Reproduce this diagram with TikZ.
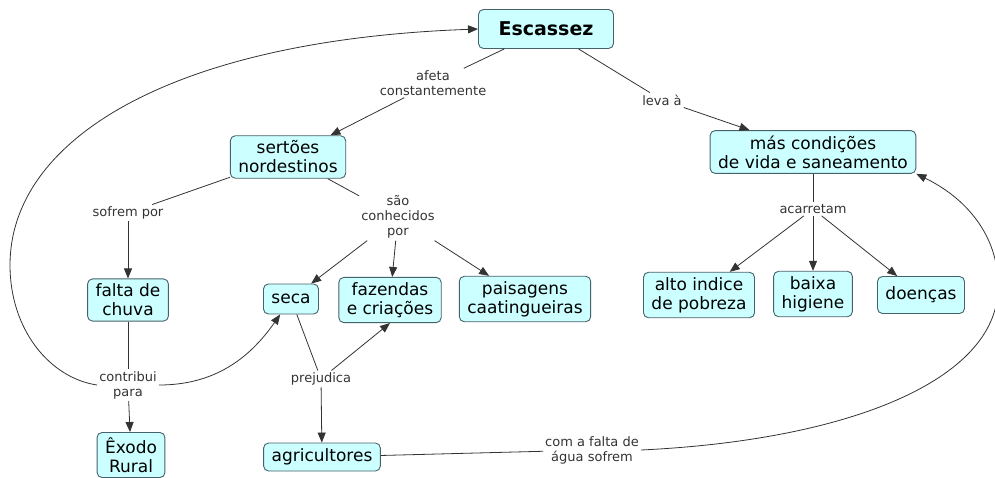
\documentclass[tikz,border=0pt]{standalone}
\usepackage{fontspec}
\setmainfont{DejaVu Sans}
\usetikzlibrary{arrows.meta,positioning}
\definecolor{conceptfill}{HTML}{CCFFFF}
\definecolor{conceptborder}{HTML}{46626A}
\definecolor{linkgray}{HTML}{333333}

\begin{document}
\begin{tikzpicture}[x=1pt,y=-1pt,
    concept/.style={draw=conceptborder,fill=conceptfill,rounded corners=5pt,line width=0.9pt,
        font=\fontsize{17}{19}\selectfont,align=center,inner xsep=8pt,inner ysep=5pt,minimum height=30pt},
    link/.style={font=\fontsize{13}{15}\selectfont,text=linkgray,align=center,inner sep=2pt},
    conn/.style={draw=linkgray,line width=0.8pt},
    arr/.style={-{Triangle[length=10pt,width=8pt]}}]
        \useasboundingbox (0,0) rectangle (995,477);
        %% Concepts
        \node[concept,font=\fontsize{19}{21}\selectfont\bfseries,minimum width=135pt,minimum height=39pt] (esc) at (546,29) {Escassez};
        \node[concept] (sert) at (288,157) {sertões\\nordestinos};
        \node[concept] (falta) at (128,300) {falta de\\chuva};
        \node[concept] (seca) at (291,299) {seca};
        \node[concept] (faz) at (390,300) {fazendas\\e criações};
        \node[concept] (pais) at (525,299) {paisagens\\caatingueiras};
        \node[concept] (exodo) at (131,455) {Êxodo\\Rural};
        \node[concept,minimum height=28pt] (agri) at (322,457) {agricultores};
        \node[concept] (mas) at (813,152) {más condições\\de vida e saneamento};
        \node[concept] (alto) at (699,295) {alto indice\\de pobreza};
        \node[concept] (baixa) at (813,294) {baixa\\higiene};
        \node[concept,minimum height=37pt] (doen) at (921,295) {doenças};
        %% Linking phrases
        \node[link] (afeta) at (433,83) {afeta\\constantemente};
        \node[link] (leva) at (662,100) {leva à};
        \node[link] (sofrem) at (128,213) {sofrem por};
        \node[link] (sao) at (398,217) {são\\conhecidos\\por};
        \node[link] (contrib) at (128,385) {contribui\\para};
        \node[link] (prej) at (321,379) {prejudica};
        \node[link] (acarr) at (813,209) {acarretam};
        \node[link] (comfalta) at (592,450) {com a falta de\\água sofrem};
        %% Escassez
        \draw[conn] (esc) -- (afeta);
        \draw[conn,arr] (afeta) -- (sert);
        \draw[conn] (esc) -- (leva);
        \draw[conn,arr] (leva) -- (mas);
        %% Sertoes
        \draw[conn] (sert) -- (sofrem);
        \draw[conn,arr] (sofrem) -- (falta);
        \draw[conn] (sert) -- (sao);
        \draw[conn,arr] (sao) -- (seca);
        \draw[conn,arr] (sao) -- (faz);
        \draw[conn,arr] (sao) -- (pais);
        %% Falta de chuva
        \draw[conn] (falta) -- (contrib);
        \draw[conn,arr] (contrib) -- (exodo);
        \draw[conn,arr] (contrib.east) to[out=0,in=-125] (seca);
        \draw[conn,arr] (contrib.west) .. controls (50,378) and (10,330) .. (10,265)
            .. controls (10,140) and (170,40) .. (esc.west);
        %% Seca
        \draw[conn] (seca) -- (prej);
        \draw[conn,arr] (prej) -- (faz.south);
        \draw[conn,arr] (prej) -- (agri);
        \draw[conn] (agri) -- (comfalta);
        \draw[conn,arr] (comfalta.east) .. controls (850,440) and (995,380) .. (998,290)
            .. controls (1000,240) and (970,200) .. (mas.south east);
        %% Mas condicoes
        \draw[conn] (mas) -- (acarr);
        \draw[conn,arr] (acarr) -- (alto);
        \draw[conn,arr] (acarr) -- (baixa);
        \draw[conn,arr] (acarr) -- (doen);
\end{tikzpicture}
\end{document}
